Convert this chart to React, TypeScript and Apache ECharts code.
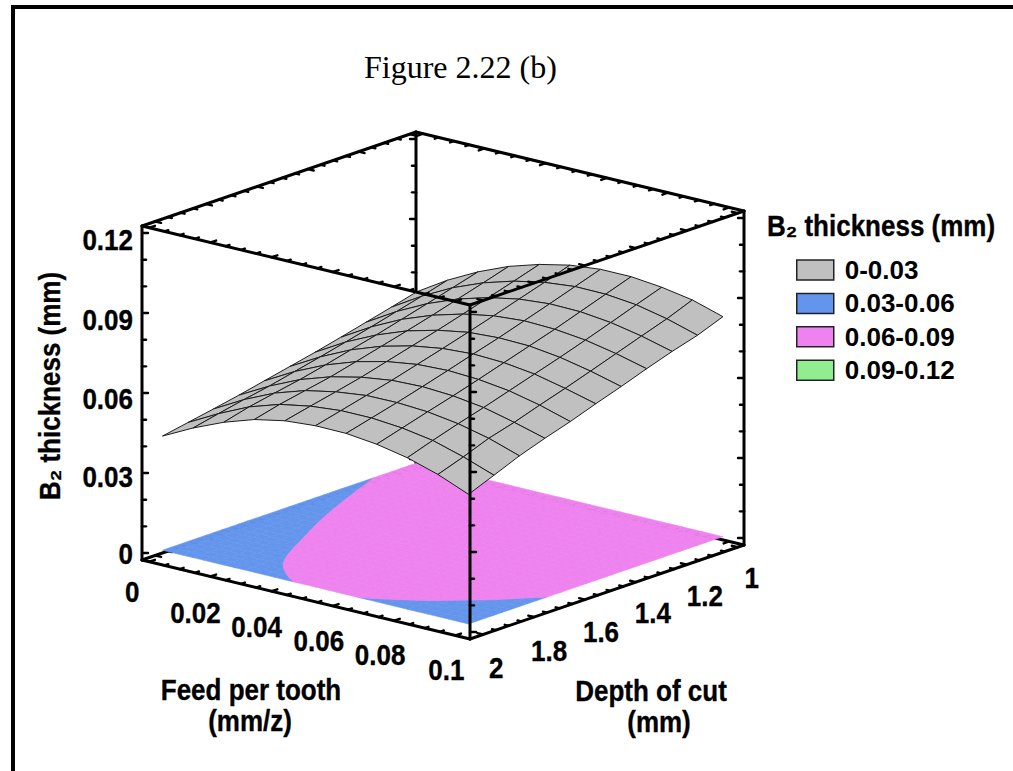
import React, { useEffect, useRef } from "react";
import * as echarts from "echarts";

// ---- data ----
const FEED_VALUES = [0, 0.01, 0.02, 0.03, 0.04, 0.05, 0.06, 0.07, 0.08, 0.09, 0.1];
const DEPTH_VALUES = [2, 1.9, 1.8, 1.7, 1.6, 1.5, 1.4, 1.3, 1.2, 1.1, 1];
// one row per depth (2 -> 1), one column per feed (0 -> 0.1)
const THICKNESS = [
  [0.0428, 0.0486, 0.0535, 0.0573, 0.0596, 0.0605, 0.0604, 0.0591, 0.0568, 0.0533, 0.0486],
  [0.0446, 0.0507, 0.056, 0.0597, 0.0618, 0.0629, 0.0629, 0.0619, 0.06, 0.0566, 0.0525],
  [0.0464, 0.0527, 0.0579, 0.0616, 0.0639, 0.0653, 0.0654, 0.0647, 0.063, 0.0603, 0.0565],
  [0.0483, 0.0545, 0.0597, 0.0635, 0.0661, 0.0677, 0.0681, 0.0674, 0.0658, 0.063, 0.0598],
  [0.0504, 0.0567, 0.0619, 0.0659, 0.0687, 0.0704, 0.0709, 0.0703, 0.0688, 0.0662, 0.0628],
  [0.0525, 0.0589, 0.0643, 0.0684, 0.0713, 0.0731, 0.0738, 0.0733, 0.0718, 0.0692, 0.0662],
  [0.0546, 0.0612, 0.0666, 0.0709, 0.0739, 0.0759, 0.0766, 0.0763, 0.0748, 0.0724, 0.0694],
  [0.0569, 0.0636, 0.0692, 0.0735, 0.0767, 0.0788, 0.0797, 0.0793, 0.078, 0.0757, 0.0728],
  [0.0593, 0.0661, 0.0718, 0.0763, 0.0796, 0.0818, 0.0828, 0.0826, 0.0813, 0.079, 0.076],
  [0.0617, 0.0686, 0.0745, 0.0791, 0.0825, 0.0848, 0.086, 0.0859, 0.0847, 0.0822, 0.0788],
  [0.0642, 0.0713, 0.0772, 0.082, 0.0855, 0.088, 0.0892, 0.0892, 0.088, 0.086, 0.0825],
];
const FEED_TICKS = ["0", "0.02", "0.04", "0.06", "0.08", "0.1"];
const DEPTH_TICKS = ["2", "1.8", "1.6", "1.4", "1.2", "1"];
const THICKNESS_TICKS = ["0", "0.03", "0.06", "0.09", "0.12"];
const LEGEND_BANDS = ["0-0.03", "0.03-0.06", "0.06-0.09", "0.09-0.12"];
const BAND_BOUNDARY = 0.06;

// ---- layout and styles ----
const F_MIN = -0.00236, F_MAX = 0.1048, D_HI = 2.052, D_LO = 0.975, Z_LO = -0.00262, Z_HI = 0.12263;
const ORIGIN = [142, 560], U_VEC = [328, 79], V_VEC = [274, -94], W_LEN = 334;
const GRAY = "#c0c0c0", BLUE = "#6495ed", PINK = "#ee82ee", GREEN = "#90ee90";
const BOLD = 'bold 26px "Liberation Sans"';
const TEXT_STRETCH = 1.12;
const FEED_OFFSET = [[-17, 30], [-15, 36], [-15, 36], [-14, 35], [-14, 34], [-9, 35]];
const DEPTH_OFFSET = [[13, 34], [15, 34], [16, 32], [17, 31], [18, 31], [14, 31]];
const THICK_OFFSET_Y = [1, 4, 6, 7, 7];

type P = [number, number];
const project = (f: number, d: number, z: number): P => {
  const u = (f - F_MIN) / (F_MAX - F_MIN);
  const v = (D_HI - d) / (D_HI - D_LO);
  const w = (z - Z_LO) / (Z_HI - Z_LO);
  return [ORIGIN[0] + U_VEC[0] * u + V_VEC[0] * v, ORIGIN[1] + U_VEC[1] * u + V_VEC[1] * v - W_LEN * w];
};

// surface cells painted from the back corner to the front one
const surfaceCells: P[][] = [];
for (let r = DEPTH_VALUES.length - 2; r >= 0; r--) {
  for (let c = 0; c < FEED_VALUES.length - 1; c++) {
    surfaceCells.push([
      project(FEED_VALUES[c], DEPTH_VALUES[r], THICKNESS[r][c]),
      project(FEED_VALUES[c + 1], DEPTH_VALUES[r], THICKNESS[r][c + 1]),
      project(FEED_VALUES[c + 1], DEPTH_VALUES[r + 1], THICKNESS[r + 1][c + 1]),
      project(FEED_VALUES[c], DEPTH_VALUES[r + 1], THICKNESS[r + 1][c]),
    ]);
  }
}

// floor bands: each grid cell is refined with a smooth interpolation of the
// grid values, then cut at the band boundary
type N = [number, number, number];
const clipBand = (poly: N[], above: boolean): N[] => {
  const inside = (n: N) => (above ? n[2] >= BAND_BOUNDARY : n[2] <= BAND_BOUNDARY);
  const out: N[] = [];
  poly.forEach((a, i) => {
    const b = poly[(i + 1) % poly.length];
    if (inside(a)) out.push(a);
    if (inside(a) !== inside(b)) {
      const k = (BAND_BOUNDARY - a[2]) / (b[2] - a[2]);
      out.push([a[0] + (b[0] - a[0]) * k, a[1] + (b[1] - a[1]) * k, BAND_BOUNDARY]);
    }
  });
  return out;
};
const cubic = (p0: number, p1: number, p2: number, p3: number, t: number) =>
  p1 + 0.5 * t * (p2 - p0 + t * (2 * p0 - 5 * p1 + 4 * p2 - p3 + t * (3 * (p1 - p2) + p3 - p0)));
const gridAt = (r: number, c: number) => {
  const n = THICKNESS.length - 1;
  const rr = Math.max(0, Math.min(n, r));
  const cc = Math.max(0, Math.min(n, c));
  // continue past the border along the nearest slope
  const base = THICKNESS[rr][cc];
  const dr = r < 0 ? THICKNESS[0][cc] - THICKNESS[1][cc] : r > n ? THICKNESS[n][cc] - THICKNESS[n - 1][cc] : 0;
  const dc = c < 0 ? THICKNESS[rr][0] - THICKNESS[rr][1] : c > n ? THICKNESS[rr][n] - THICKNESS[rr][n - 1] : 0;
  return base + dr + dc;
};
const smoothAt = (r: number, c: number, a: number, b: number) => {
  const row = (k: number) =>
    cubic(gridAt(r + k, c - 1), gridAt(r + k, c), gridAt(r + k, c + 1), gridAt(r + k, c + 2), a);
  return cubic(row(-1), row(0), row(1), row(2), b);
};
const blueCells: P[][] = [];
const pinkCells: P[][] = [];
const REFINE = 3;
for (let r = 0; r < DEPTH_VALUES.length - 1; r++) {
  for (let c = 0; c < FEED_VALUES.length - 1; c++) {
    const at = (i: number, j: number): N => {
      const a = i / REFINE, b = j / REFINE;
      return [
        FEED_VALUES[c] + (FEED_VALUES[c + 1] - FEED_VALUES[c]) * a,
        DEPTH_VALUES[r] + (DEPTH_VALUES[r + 1] - DEPTH_VALUES[r]) * b,
        smoothAt(r, c, a, b),
      ];
    };
    for (let i = 0; i < REFINE; i++) {
      for (let j = 0; j < REFINE; j++) {
        const q = [at(i, j), at(i + 1, j), at(i + 1, j + 1), at(i, j + 1)];
        const lo = clipBand(q, false);
        const hi = clipBand(q, true);
        if (lo.length > 2) blueCells.push(lo.map((n) => project(n[0], n[1], 0)));
        if (hi.length > 2) pinkCells.push(hi.map((n) => project(n[0], n[1], 0)));
      }
    }
  }
}

// box
type Seg = { a: P; b: P; w: number };
const backSegs: Seg[] = [];
const frontSegs: Seg[] = [];
const unit = (x: number, y: number): P => {
  const l = Math.hypot(x, y);
  return [x / l, y / l];
};
const LINE_W = 3, TICK_W = 2.4;
const tick = (list: Seg[], p: P, dir: P, major: boolean) => {
  const len = major ? 6 : 4;
  list.push({ a: p, b: [p[0] + dir[0] * len, p[1] + dir[1] * len], w: TICK_W });
};
[Z_LO, Z_HI].forEach((z) => {
  // edges along feed
  [D_HI, D_LO].forEach((d) => {
    const list = d === D_HI ? frontSegs : backSegs;
    list.push({ a: project(F_MIN, d, z), b: project(F_MAX, d, z), w: LINE_W });
    const dir = d === D_HI ? unit(V_VEC[0], V_VEC[1]) : unit(-V_VEC[0], -V_VEC[1]);
    for (let i = 0; i <= 20; i++) tick(list, project(i * 0.005, d, z), dir, i % 4 === 0);
  });
  // edges along depth
  [F_MIN, F_MAX].forEach((f) => {
    const list = f === F_MAX ? frontSegs : backSegs;
    list.push({ a: project(f, D_HI, z), b: project(f, D_LO, z), w: LINE_W });
    const dir = f === F_MIN ? unit(U_VEC[0], U_VEC[1]) : unit(-U_VEC[0], -U_VEC[1]);
    for (let i = 0; i <= 20; i++) tick(list, project(f, 1 + i * 0.05, z), dir, i % 4 === 0);
  });
});
// vertical edges
(
  [
    [F_MIN, D_HI, frontSegs, 1],
    [F_MAX, D_HI, frontSegs, 1],
    [F_MAX, D_LO, frontSegs, -1],
    [F_MIN, D_LO, backSegs, -1],
  ] as [number, number, Seg[], number][]
).forEach(([f, d, list, side]) => {
  list.push({ a: project(f, d, Z_LO), b: project(f, d, Z_HI), w: LINE_W });
  for (let i = 0; i <= 12; i++) tick(list, project(f, d, i * 0.01), [side, 0], i % 3 === 0);
});

// tick labels
type Lab = { text: string; x: number; y: number; font: string; align?: string; rot?: number };
const labels: Lab[] = [];
FEED_TICKS.forEach((t, i) => {
  const p = project(Number(t), D_HI, Z_LO);
  labels.push({ text: t, x: p[0] + FEED_OFFSET[i][0], y: p[1] + FEED_OFFSET[i][1], font: BOLD });
});
DEPTH_TICKS.forEach((t, i) => {
  const p = project(F_MAX, Number(t), Z_LO);
  labels.push({ text: t, x: p[0] + DEPTH_OFFSET[i][0], y: p[1] + DEPTH_OFFSET[i][1], font: BOLD });
});
THICKNESS_TICKS.forEach((t, i) => {
  const p = project(F_MIN, D_HI, Number(t));
  labels.push({ text: t, x: p[0] - 9, y: p[1] + THICK_OFFSET_Y[i], font: BOLD, align: "right" });
});
labels.push({ text: "Feed per tooth", x: 251, y: 690, font: BOLD });
labels.push({ text: "(mm/z)", x: 250, y: 721, font: BOLD });
labels.push({ text: "Depth of cut", x: 651, y: 691, font: BOLD });
labels.push({ text: "(mm)", x: 659, y: 722, font: BOLD });
labels.push({ text: "B₂ thickness (mm)", x: 881, y: 226, font: BOLD });
labels.push({ text: "B₂ thickness (mm)", x: 50, y: 386, font: BOLD, rot: Math.PI / 2 });

const polySeries = (name: string | undefined, cells: P[][], fill: string, stroke: string, lw: number) => ({
  type: "custom",
  name,
  coordinateSystem: "cartesian2d",
  silent: true,
  clip: false,
  itemStyle: { color: fill },
  encode: { x: 0, y: 1 },
  data: cells.map((_, i) => [i, 0]),
  renderItem: (_: any, api: any) => ({
    type: "polygon",
    silent: true,
    shape: { points: cells[api.value(0)].map((p) => api.coord(p)) },
    style: { fill, stroke, lineWidth: lw, lineJoin: "round" },
  }),
});

const segSeries = (segs: Seg[]) => ({
  type: "custom",
  coordinateSystem: "cartesian2d",
  silent: true,
  clip: false,
  encode: { x: 0, y: 1 },
  data: segs.map((_, i) => [i, 0]),
  renderItem: (_: any, api: any) => {
    const s = segs[api.value(0)];
    const a = api.coord(s.a), b = api.coord(s.b);
    return {
      type: "line",
      silent: true,
      shape: { x1: a[0], y1: a[1], x2: b[0], y2: b[1] },
      style: { stroke: "#000", lineWidth: s.w, lineCap: "round" },
    };
  },
});

const textSeries = {
  type: "custom",
  coordinateSystem: "cartesian2d",
  silent: true,
  clip: false,
  encode: { x: 0, y: 1 },
  data: labels.map((_, i) => [i, 0]),
  renderItem: (_: any, api: any) => {
    const l = labels[api.value(0)];
    const c = api.coord([l.x, l.y]);
    return {
      type: "text",
      silent: true,
      x: c[0],
      y: c[1],
      rotation: l.rot || 0,
      scaleY: TEXT_STRETCH,
      style: {
        text: l.text,
        font: l.font,
        fill: "#000",
        stroke: "#000",
        lineWidth: 0.3,
        textAlign: l.align || "center",
        textVerticalAlign: "middle",
      },
    };
  },
};

export default function App() {
  const ref = useRef<HTMLDivElement>(null);
  useEffect(() => {
    const chart = echarts.init(ref.current!, undefined, { renderer: "svg" });
    chart.setOption({
      animation: false,
      backgroundColor: "#fff",
      title: {
        text: "Figure 2.22 (b)",
        left: 364,
        top: 51,
        padding: 0,
        textStyle: { fontFamily: "Liberation Serif", fontSize: 32, fontWeight: "normal", color: "#000" },
      },
      grid: { left: 0, top: 0, right: 0, bottom: 0 },
      xAxis: { type: "value", min: 0, max: 1013, show: false },
      yAxis: { type: "value", min: 0, max: 771, inverse: true, show: false },
      legend: {
        orient: "vertical",
        left: 796,
        top: 257,
        padding: 0,
        itemWidth: 37,
        itemHeight: 20,
        itemGap: 7.4,
        icon: "rect",
        selectedMode: false,
        itemStyle: { borderColor: "#222", borderWidth: 1.5 },
        textStyle: { fontFamily: "Liberation Sans", fontSize: 26, fontWeight: "bold", color: "#000", padding: [0, 0, 0, 6] },
        data: LEGEND_BANDS,
      },
      graphic: [
        { type: "rect", shape: { x: 11, y: 5, width: 4, height: 766 }, style: { fill: "#000" } },
        { type: "rect", shape: { x: 11, y: 5, width: 1002, height: 4 }, style: { fill: "#000" } },
      ],
      series: [
        segSeries(backSegs),
        polySeries(LEGEND_BANDS[1], blueCells, BLUE, BLUE, 0.6),
        polySeries(LEGEND_BANDS[2], pinkCells, PINK, PINK, 0.6),
        polySeries(LEGEND_BANDS[0], surfaceCells, GRAY, "#1c1c1c", 1),
        polySeries(LEGEND_BANDS[3], [], GREEN, GREEN, 0),
        segSeries(frontSegs),
        textSeries,
      ],
    });
    return () => chart.dispose();
  }, []);
  return <div ref={ref} style={{ position: "fixed", left: 0, top: 0, width: 1013, height: 771 }} />;
}
